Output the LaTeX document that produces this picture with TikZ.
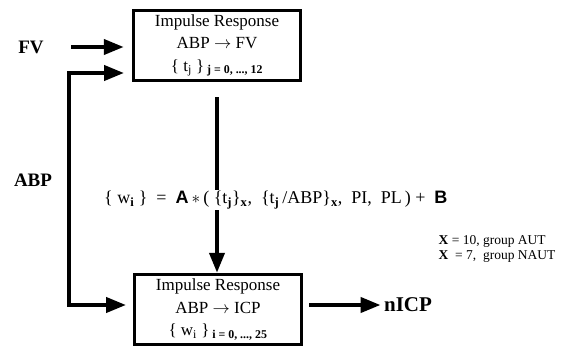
\documentclass[tikz,border=0pt]{standalone}
\usepackage{fontspec}
\setmainfont{Liberation Serif}
\setsansfont{Liberation Sans}
\usetikzlibrary{arrows.meta}

\begin{document}
\begin{tikzpicture}[x=1pt,y=-1pt]
    \useasboundingbox (0,0) rectangle (571,353);
    \begin{scope}[every node/.style={draw, line width=3.5pt, minimum width=167pt, minimum height=70pt, inner sep=0pt, align=center, font=\fontsize{17}{22.5}\selectfont}]
                        \node (fv) at (217,45.5) {Impulse Response\\ ABP $\rightarrow$ FV\\ \{ t\textsubscript{j} \}\,\textsubscript{\textbf{j = 0, ..., 12}}};
                        \node (icp) at (218,309.5) {Impulse Response\\ ABP $\rightarrow$ ICP\\ \{ w\textsubscript{i} \}\,\textsubscript{\textbf{i = 0, ..., 25}}};
                \end{scope}

                \begin{scope}[every node/.style={font=\bfseries\fontsize{19}{22}\selectfont}]
                        \node (fvin) at (31,47) {FV};
                        \node (abpin) at (33,180) {ABP};
                        \node[font=\bfseries\fontsize{21}{26}\selectfont] (nicp) at (408,305) {nICP};
                \end{scope}

                \node[font=\fontsize{18}{21}\selectfont, anchor=west, inner sep=1pt] (eq) at (103,200) {\{ w\textsubscript{\textbf{i}} \} ~=~ \textsf{\textbf{A}}\,$*$\,( \{t\textsubscript{\textbf{j}}\}\textsubscript{\textbf{x}}, ~\{t\textsubscript{\textbf{j}}\,/ABP\}\textsubscript{\textbf{x}}, ~PI, ~PL\,) + ~\textsf{\textbf{B}}};
                \node[font=\fontsize{13.5}{15.5}\selectfont, align=left, anchor=east] (grp) at (559,249) {\textbf{X} = 10, group AUT\\ \textbf{X} ~= 7, ~group NAUT};

                \coordinate (abptop) at (124,73);
                \coordinate (abpx) at (69,73);
                \coordinate (abpbot) at (126,305);

                \begin{scope}[every path/.style={line width=4pt, -{Triangle[length=20pt,width=15pt]}}]
                        \draw ([xshift=24pt]fvin.east) -- ([xshift=-8pt]fv.west |- fvin);
                        \draw[{Triangle[length=20pt,width=15pt]}-{Triangle[length=20pt,width=15pt]}] (abptop) -- (abpx) |- (abpbot);
                        \draw[-] ([yshift=-15pt]fv.south) -- (fv.south |- eq.north);
                        \draw (fv.south |- eq.south) -- (fv.south |- icp.north);
                        \draw ([xshift=6pt]icp.east |- nicp) -- (nicp.west);
                \end{scope}
\end{tikzpicture}
\end{document}
